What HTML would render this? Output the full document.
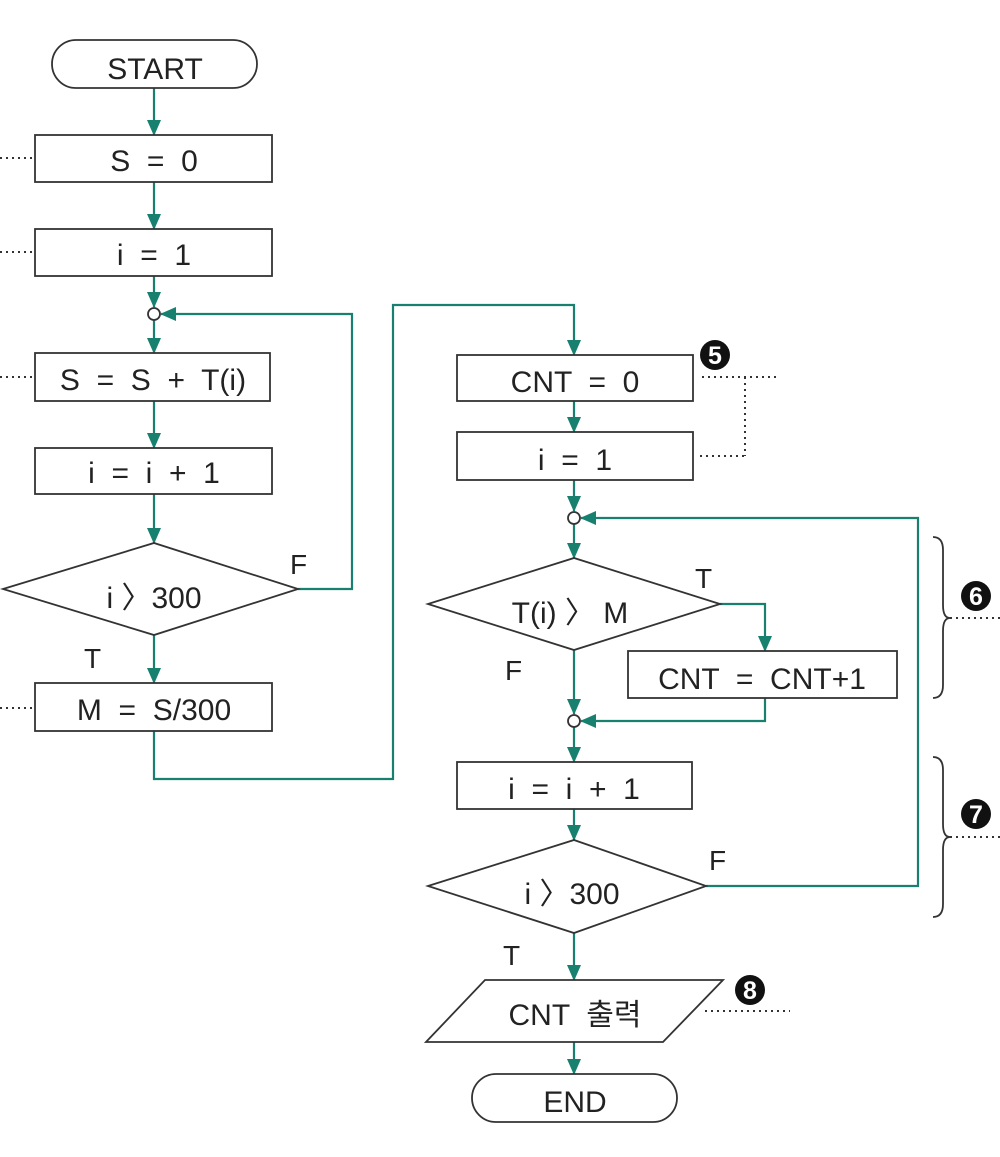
<!DOCTYPE html>
<html><head><meta charset="utf-8"><style>
html,body{margin:0;padding:0;background:#fff;width:1000px;height:1157px;overflow:hidden}
text{font-family:"Liberation Sans","Noto Sans CJK KR",sans-serif;fill:#222;white-space:pre}
</style></head><body>
<svg width="1000" height="1157" viewBox="0 0 1000 1157" xmlns="http://www.w3.org/2000/svg" xml:space="preserve">
<defs>
<marker id="b" markerWidth="16" markerHeight="14" refX="15" refY="7" orient="auto" markerUnits="userSpaceOnUse" viewBox="0 0 16 14"><path d="M0,0 L16,7 L0,14 z" fill="#17806f"/></marker>
</defs>
<g stroke="#17806f" stroke-width="2.2" fill="none">
<path d="M154 88 V135" marker-end="url(#b)"/>
<path d="M154 182 V229" marker-end="url(#b)"/>
<path d="M154 276 V307" marker-end="url(#b)"/>
<path d="M154 320 V353" marker-end="url(#b)"/>
<path d="M154 401 V448" marker-end="url(#b)"/>
<path d="M154 494 V543" marker-end="url(#b)"/>
<path d="M298 589 H352 V314 H161" marker-end="url(#b)"/>
<path d="M154 635 V683" marker-end="url(#b)"/>
<path d="M154 731 V779 H393 V305 H574 V355" marker-end="url(#b)"/>
<path d="M574 401 V432" marker-end="url(#b)"/>
<path d="M574 480 V511" marker-end="url(#b)"/>
<path d="M574 524 V558" marker-end="url(#b)"/>
<path d="M720 604 H765 V651" marker-end="url(#b)"/>
<path d="M574 650 V714" marker-end="url(#b)"/>
<path d="M765 698 V721 H581" marker-end="url(#b)"/>
<path d="M574 727 V762" marker-end="url(#b)"/>
<path d="M574 809 V840" marker-end="url(#b)"/>
<path d="M706 886 H918 V518 H581" marker-end="url(#b)"/>
<path d="M574 933 V980" marker-end="url(#b)"/>
<path d="M574 1042 V1074" marker-end="url(#b)"/>
</g>
<g stroke="#333" stroke-width="1.8" fill="#fff">
<rect x="52" y="40" width="205" height="48" rx="24"/>
<rect x="35" y="135" width="237" height="47"/>
<rect x="35" y="229" width="237" height="47"/>
<circle cx="154" cy="314" r="6"/>
<rect x="35" y="353" width="235" height="48"/>
<rect x="35" y="448" width="237" height="46"/>
<polygon points="3,589 154,543 298,589 154,635"/>
<rect x="35" y="683" width="237" height="48"/>
<rect x="457" y="355" width="236" height="46"/>
<rect x="457" y="432" width="236" height="48"/>
<circle cx="574" cy="518" r="6"/>
<polygon points="428,604 574,558 720,604 574,650"/>
<rect x="628" y="651" width="269" height="47"/>
<circle cx="574" cy="721" r="6"/>
<rect x="457" y="762" width="235" height="47"/>
<polygon points="428,886 574,840 706,886 574,933"/>
<polygon points="485,980 723,980 663,1042 426,1042"/>
<rect x="472" y="1074" width="205" height="48" rx="24"/>
</g>
<g stroke="#333" stroke-width="2" fill="none" stroke-dasharray="2,4">
<path d="M0 158 H35 M0 252 H35 M0 377 H35 M0 708 H35"/>
<path d="M702 377 H778 M745 377 V456 M700 456 H745"/>
<path d="M950 618 H1000 M950 837 H1000"/>
<path d="M705 1011 H790"/>
</g>
<g stroke="#333" stroke-width="1.8" fill="none">
<path d="M933 537 Q943 537 943 550 V605 Q943 618 950 618 Q943 618 943 631 V685 Q943 698 933 698"/>
<path d="M933 757 Q943 757 943 770 V824 Q943 837 950 837 Q943 837 943 850 V904 Q943 917 933 917"/>
</g>
<g font-size="30" text-anchor="middle">
<text x="155" y="79">START</text>
<text x="154" y="171">S  =  0</text>
<text x="154" y="265">i  =  1</text>
<text x="153" y="390">S  =  S  +  T(i)</text>
<text x="154" y="483">i  =  i  +  1</text>
<text x="154" y="608">i 〉300</text>
<text x="154" y="720">M  =  S/300</text>
<text x="575" y="392">CNT  =  0</text>
<text x="575" y="470">i  =  1</text>
<text x="570" y="623">T(i) 〉 M</text>
<text x="762" y="689">CNT  =  CNT+1</text>
<text x="574" y="799">i  =  i  +  1</text>
<text x="572" y="904">i 〉300</text>
<text x="575" y="1025">CNT  출력</text>
<text x="575" y="1112">END</text>
</g>
<g font-size="28">
<text x="290" y="574">F</text>
<text x="84" y="668">T</text>
<text x="695" y="588">T</text>
<text x="505" y="680">F</text>
<text x="709" y="870">F</text>
<text x="503" y="965">T</text>
</g>
<g>
<circle cx="715" cy="355" r="15" fill="#111"/><text x="715" y="364" font-size="25" font-weight="bold" text-anchor="middle" style="fill:#fff">5</text>
<circle cx="976" cy="596" r="15" fill="#111"/><text x="976" y="605" font-size="25" font-weight="bold" text-anchor="middle" style="fill:#fff">6</text>
<circle cx="976" cy="814" r="15" fill="#111"/><text x="976" y="823" font-size="25" font-weight="bold" text-anchor="middle" style="fill:#fff">7</text>
<circle cx="750" cy="990" r="15" fill="#111"/><text x="750" y="999" font-size="25" font-weight="bold" text-anchor="middle" style="fill:#fff">8</text>
</g>
</svg>
</body></html>
